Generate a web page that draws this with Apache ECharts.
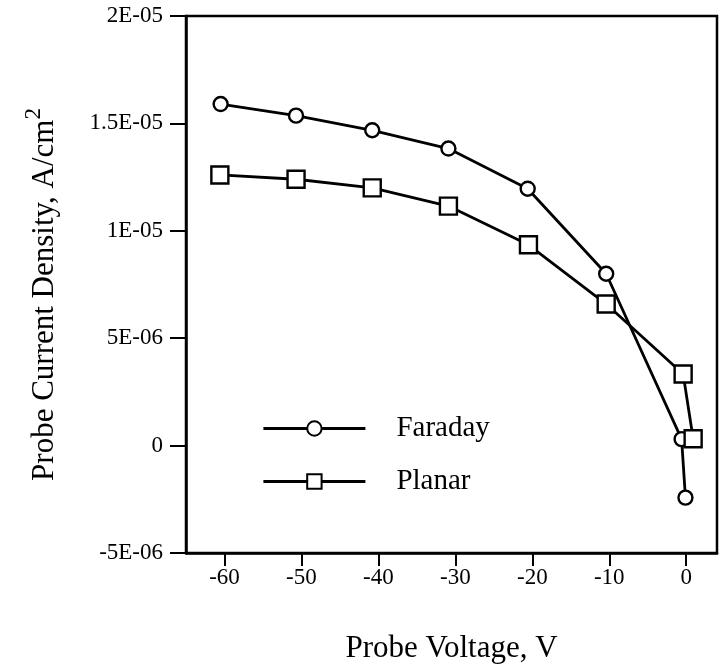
<!DOCTYPE html>
<html>
<head>
<meta charset="utf-8">
<script src="https://cdn.jsdelivr.net/npm/echarts@6/dist/echarts.min.js"></script>
<style>
  html, body { margin: 0; padding: 0; background: #fff; }
  #chart { width: 720px; height: 669px; }
</style>
</head>
<body>
<div id="chart"></div>
<script>
// values
var faradayX = [-60.5, -50.7, -40.8, -30.9, -20.6, -10.4, -0.6, -0.1]
var faradayY = [1.59e-5, 1.536e-5, 1.468e-5, 1.383e-5, 1.196e-5, 8.0e-6, 3.0e-7, -2.42e-6]
var planarX = [-60.6, -50.7, -40.8, -30.9, -20.5, -10.4, -0.4, 0.9]
var planarY = [1.26e-5, 1.24e-5, 1.2e-5, 1.115e-5, 9.35e-6, 6.59e-6, 3.33e-6, 3.2e-7]
var xTicks = [-60, -50, -40, -30, -20, -10, 0]
var yTickLabels = ['-5E-06', '0', '5E-06', '1E-05', '1.5E-05', '2E-05']

var font = 'Liberation Serif, Times New Roman, serif'

function pairs(xs, ys) {
  return xs.map(function(x, i) { return [x, ys[i]] })
}

var chart = echarts.init(document.getElementById('chart'))
chart.setOption({
  animation: false,
  backgroundColor: '#fff',
  grid: {
    left: 186,
    right: 3,
    top: 16,
    bottom: 116,
    show: true,
    borderColor: '#000',
    borderWidth: 2.5
  },
  legend: {
    orient: 'vertical',
    left: 257,
    top: 409,
    itemWidth: 102,
    itemHeight: 18,
    itemGap: 24,
    data: ['Faraday', 'Planar'],
    lineStyle: { width: 2.8, color: '#000' },
    textStyle: {
      fontFamily: font,
      fontSize: 29,
      color: '#000',
      padding: [0, 0, 0, 26]
    }
  },
  xAxis: {
    type: 'value',
    min: -65,
    max: 4,
    name: 'Probe Voltage, V',
    nameLocation: 'middle',
    nameGap: 80,
    nameTextStyle: { fontFamily: font, fontSize: 31, color: '#000' },
    axisLine: { onZero: false, lineStyle: { color: '#000', width: 2.5 } },
    axisTick: { show: true, length: 13, lineStyle: { width: 2 }, customValues: xTicks },
    axisLabel: {
      customValues: xTicks,
      fontFamily: font,
      fontSize: 23,
      color: '#000',
      margin: 13
    },
    splitLine: { show: false }
  },
  yAxis: {
    type: 'value',
    min: -5e-6,
    max: 2e-5,
    interval: 5e-6,
    name: '{a|Probe Current Density, A/cm}{s|2}',
    nameLocation: 'middle',
    nameGap: 126,
    nameTextStyle: {
      padding: [0, 20, 0, 0],
      rich: {
        a: { fontFamily: font, fontSize: 31, color: '#000', lineHeight: 38, verticalAlign: 'bottom' },
        s: { fontFamily: font, fontSize: 23, color: '#000', lineHeight: 38, verticalAlign: 'top', padding: [0, 0, 14, 0] }
      }
    },
    axisLine: { onZero: false, lineStyle: { color: '#000', width: 2.5 } },
    axisTick: { show: true, length: 16, lineStyle: { width: 2 } },
    axisLabel: {
      fontFamily: font,
      fontSize: 23,
      color: '#000',
      margin: 23,
      formatter: function(v) {
        return yTickLabels[Math.round(v / 5e-6) + 1]
      }
    },
    splitLine: { show: false }
  },
  series: [
    {
      name: 'Faraday',
      type: 'line',
      data: pairs(faradayX, faradayY),
      symbol: 'circle',
      symbolSize: 14,
      lineStyle: { color: '#000', width: 2.8 },
      itemStyle: { color: '#fff', borderColor: '#000', borderWidth: 2.4 }
    },
    {
      name: 'Planar',
      type: 'line',
      data: pairs(planarX, planarY),
      symbol: 'rect',
      symbolSize: 17,
      lineStyle: { color: '#000', width: 2.8 },
      itemStyle: { color: '#fff', borderColor: '#000', borderWidth: 2.4 }
    }
  ]
})
</script>
</body>
</html>
